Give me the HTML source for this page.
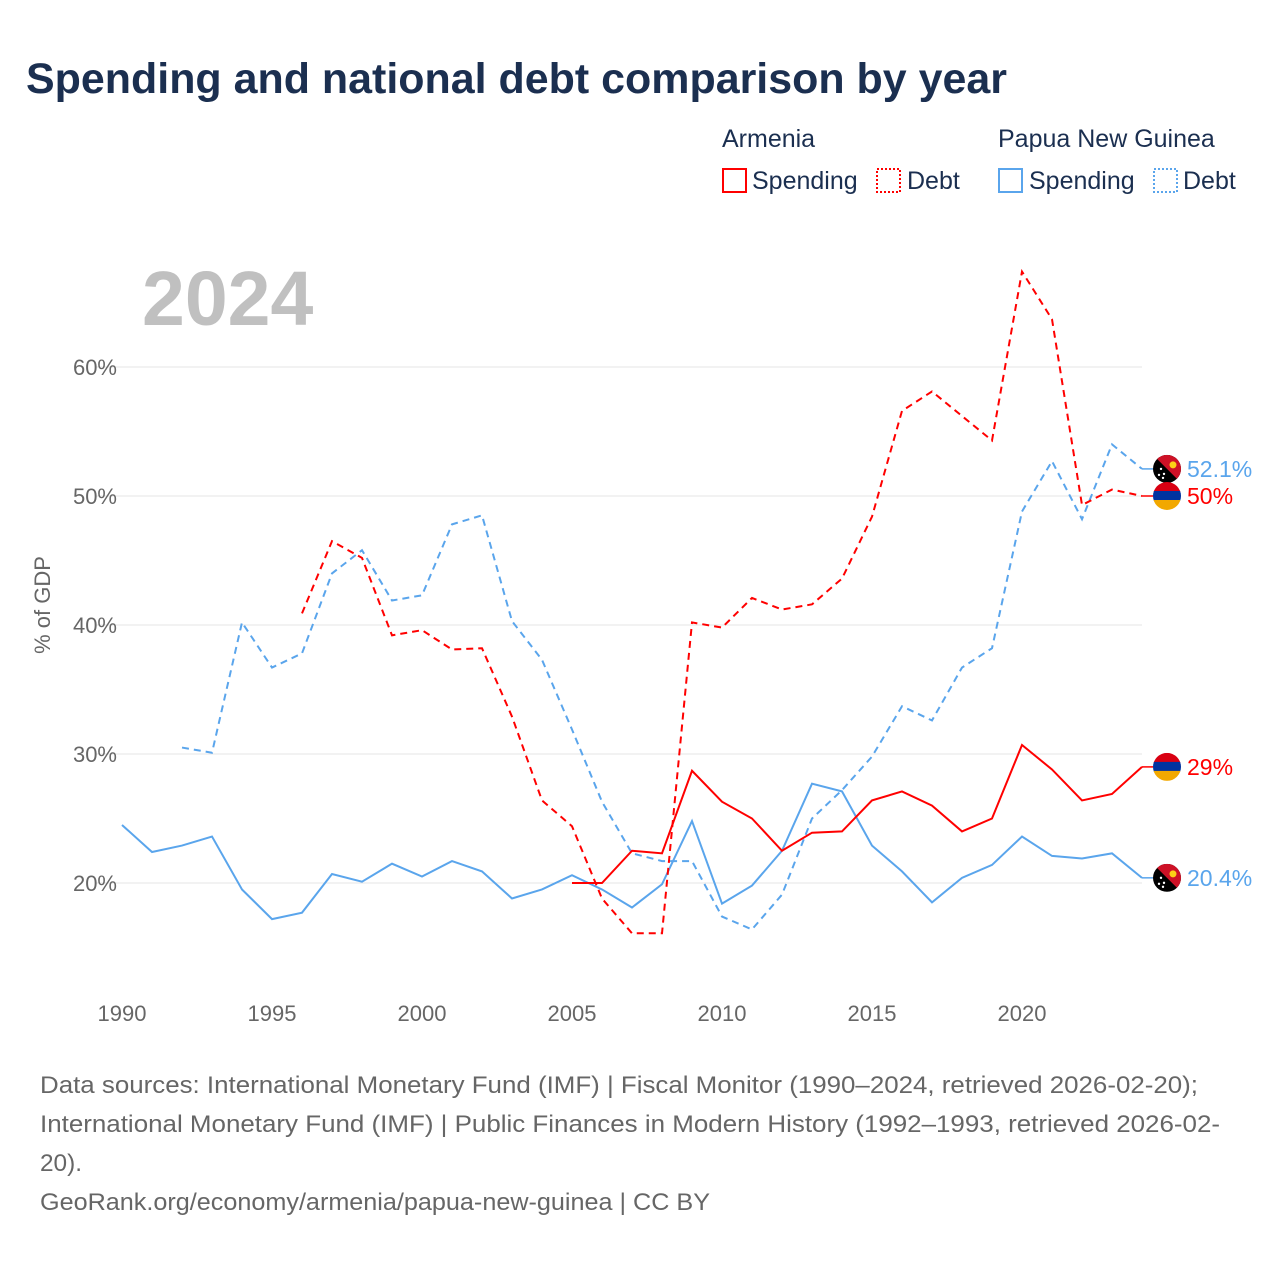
<!DOCTYPE html>
<html><head><meta charset="utf-8"><style>
body{margin:0;background:#fff;font-family:"Liberation Sans",sans-serif;}
#wrap{position:relative;width:1280px;height:1280px;overflow:hidden;}
</style></head><body>
<div id="wrap">
<svg id="chart" width="1280" height="1280" xmlns="http://www.w3.org/2000/svg">
<defs>
<clipPath id="c1"><circle cx="0" cy="0" r="14"/></clipPath>
</defs>
<text x="26" y="93" font-size="43" font-weight="bold" fill="#1b2f50" textLength="981" lengthAdjust="spacingAndGlyphs">Spending and national debt comparison by year</text>
<g font-size="25" fill="#1b2f50">
<text x="722" y="147">Armenia</text>
<rect x="723" y="169" width="23" height="23" fill="none" stroke="#f00" stroke-width="2"/>
<text x="752" y="189">Spending</text>
<rect x="877" y="169" width="23" height="23" fill="none" stroke="#f00" stroke-width="2" stroke-dasharray="2,2"/>
<text x="907" y="189">Debt</text>
<text x="998" y="147">Papua New Guinea</text>
<rect x="999" y="169" width="23" height="23" fill="none" stroke="#5aa5ec" stroke-width="2"/>
<text x="1029" y="189">Spending</text>
<rect x="1154" y="169" width="23" height="23" fill="none" stroke="#5aa5ec" stroke-width="2" stroke-dasharray="2,2"/>
<text x="1183" y="189">Debt</text>
</g>
<text x="142" y="325" font-size="77" font-weight="bold" fill="#c0c0c0">2024</text>
<text transform="translate(50,605) rotate(-90)" text-anchor="middle" font-size="22" fill="#666">% of GDP</text>
<g id="grid"></g><g id="series"></g><g id="ends"></g>
<g font-size="24" fill="#666">
<text x="40" y="1093" textLength="1158" lengthAdjust="spacingAndGlyphs">Data sources: International Monetary Fund (IMF) | Fiscal Monitor (1990–2024, retrieved 2026-02-20);</text>
<text x="40" y="1132" textLength="1180" lengthAdjust="spacingAndGlyphs">International Monetary Fund (IMF) | Public Finances in Modern History (1992–1993, retrieved 2026-02-</text>
<text x="40" y="1171" textLength="42" lengthAdjust="spacingAndGlyphs">20).</text>
<text x="40" y="1210" textLength="670" lengthAdjust="spacingAndGlyphs">GeoRank.org/economy/armenia/papua-new-guinea | CC BY</text>
</g>
</svg>
</div>
<script>
const yTicks=[20,30,40,50,60];
const xTicks=[1990,1995,2000,2005,2010,2015,2020];
const pngSpendYears=[1990,1991,1992,1993,1994,1995,1996,1997,1998,1999,2000,2001,2002,2003,2004,2005,2006,2007,2008,2009,2010,2011,2012,2013,2014,2015,2016,2017,2018,2019,2020,2021,2022,2023,2024];
const pngSpend=[24.5,22.4,22.9,23.6,19.5,17.2,17.7,20.7,20.1,21.5,20.5,21.7,20.9,18.8,19.5,20.6,19.5,18.1,19.9,24.8,18.4,19.8,22.5,27.7,27.1,22.9,20.9,18.5,20.4,21.4,23.6,22.1,21.9,22.3,20.4];
const pngDebtYears=[1992,1993,1994,1995,1996,1997,1998,1999,2000,2001,2002,2003,2004,2005,2006,2007,2008,2009,2010,2011,2012,2013,2014,2015,2016,2017,2018,2019,2020,2021,2022,2023,2024];
const pngDebt=[30.5,30.1,40.2,36.7,37.8,44.0,45.8,41.9,42.3,47.8,48.5,40.3,37.3,31.9,26.3,22.3,21.7,21.7,17.4,16.4,19.1,25.0,27.2,29.8,33.7,32.6,36.7,38.2,48.8,52.7,48.2,54.0,52.1];
const armDebtYears=[1996,1997,1998,1999,2000,2001,2002,2003,2004,2005,2006,2007,2008,2009,2010,2011,2012,2013,2014,2015,2016,2017,2018,2019,2020,2021,2022,2023,2024];
const armDebt=[40.9,46.5,45.2,39.2,39.6,38.1,38.2,32.9,26.4,24.4,18.8,16.1,16.1,40.2,39.8,42.1,41.2,41.6,43.6,48.4,56.6,58.1,56.2,54.3,67.4,63.7,49.3,50.5,50.0];
const armSpendYears=[2005,2006,2007,2008,2009,2010,2011,2012,2013,2014,2015,2016,2017,2018,2019,2020,2021,2022,2023,2024];
const armSpend=[20.0,20.0,22.5,22.3,28.7,26.3,25.0,22.5,23.9,24.0,26.4,27.1,26.0,24.0,25.0,30.7,28.8,26.4,26.9,29.0];
const endLabels=["52.1%","50%","29%","20.4%"];

const NS="http://www.w3.org/2000/svg";
const X=yr=>122+(yr-1990)*30;
const Y=v=>883-(v-20)*12.9;
function mk(t,a,p){const e=document.createElementNS(NS,t);for(const k in a)e.setAttribute(k,a[k]);p.appendChild(e);return e;}
const grid=document.getElementById('grid');
yTicks.forEach(t=>{
  const l=mk('line',{x1:95,x2:1142,y1:Y(t),y2:Y(t),stroke:'#e6e6e6','stroke-width':1},grid);
  
  
  const tx=mk('text',{x:117,y:Y(t)+8,'text-anchor':'end','font-size':22,fill:'#666'},grid);
  tx.textContent=t+'%';
  
  
});
xTicks.forEach(t=>{
  const tx=mk('text',{x:X(t),y:1021,'text-anchor':'middle','font-size':22,fill:'#666'},grid);
  tx.textContent=t;
  
  
});
const ser=document.getElementById('series');
function line(years,vals,color,dash,name){
  const d=years.map((y,i)=>(i?'L':'M')+X(y)+','+Y(vals[i])).join(' ');
  const p=mk('path',{d:d,fill:'none',stroke:color,'stroke-width':2,'stroke-dasharray':dash?'7,5':'none'},ser);
  
  
}
line(pngSpendYears,pngSpend,'#5aa5ec',false,'png-spending-line');
line(pngDebtYears,pngDebt,'#5aa5ec',true,'png-debt-line');
line(armSpendYears,armSpend,'#f00',false,'armenia-spending-line');
line(armDebtYears,armDebt,'#f00',true,'armenia-debt-line');
const ends=document.getElementById('ends');
function flag(cx,cy,type,name){
  const g=mk('g',{transform:`translate(${cx},${cy})`},ends);
  
  
  const gg=mk('g',{'clip-path':'url(#c1)'},g);
  if(type==='arm'){
    mk('rect',{x:-14,y:-14,width:28,height:10,fill:'#d90012'},gg);
    mk('rect',{x:-14,y:-5,width:28,height:10,fill:'#0033a0'},gg);
    mk('rect',{x:-14,y:4,width:28,height:10,fill:'#f2a800'},gg);
  }else{
    mk('rect',{x:-14,y:-14,width:28,height:28,fill:'#000'},gg);
    mk('path',{d:'M-14,-14 L14,-14 L14,14 Z',fill:'#ce1126'},gg);
    mk('circle',{cx:6,cy:-4,r:3.5,fill:'#fcd116'},gg);
    [[-6,0],[-3,5],[-8,6],[-4,9]].forEach(s=>mk('circle',{cx:s[0],cy:s[1],r:1.2,fill:'#fff'},gg));
  }
}
const endData=[[pngDebt[pngDebt.length-1],'png','#5aa5ec'],[armDebt[armDebt.length-1],'arm','#f00'],[armSpend[armSpend.length-1],'arm','#f00'],[pngSpend[pngSpend.length-1],'png','#5aa5ec']];
endData.forEach((e,i)=>{
  const y=Y(e[0]);
  mk('line',{x1:1142,x2:1153,y1:y,y2:y,stroke:e[2],'stroke-width':1.5},ends);
  flag(1167,y,e[1],'end-flag-'+i);
  const t=mk('text',{x:1187,y:y+8,'font-size':23,fill:e[2]},ends);
  t.textContent=endLabels[i];
  
  
});
</script>
</body></html>
